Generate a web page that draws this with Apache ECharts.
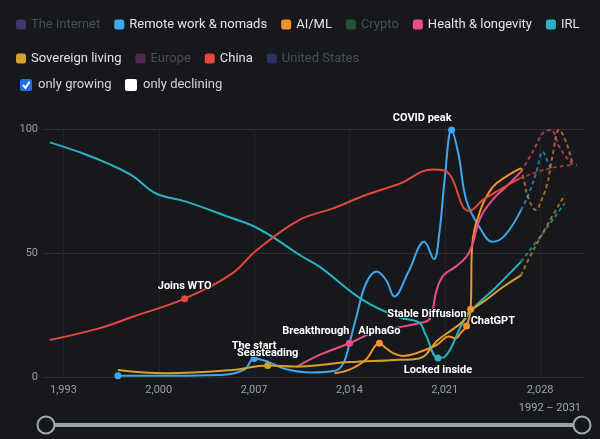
<!DOCTYPE html>
<html>
<head>
<meta charset="utf-8">
<script src="https://cdn.jsdelivr.net/npm/echarts@6/dist/echarts.min.js"></script>
<style>
  html, body { margin: 0; padding: 0; background: #17181c; }
  #chart { width: 600px; height: 439px; }
</style>
</head>
<body>
<div id="chart"></div>
<script>
// ---- data ----
const xTickYears = [1993, 2000, 2007, 2014, 2021, 2028]
const legendRow1 = ['The internet', 'Remote work & nomads', 'AI/ML', 'Crypto', 'Health & longevity', 'IRL']
const legendRow2 = ['Sovereign living', 'Europe', 'China', 'United States']
const hiddenSeries = ['The internet', 'Crypto', 'Europe', 'United States']
const filters = ['only growing', 'only declining']
const rangeLabel = '1992 – 2031'

const remoteWork = [[1997.0, 0.5], [2001, 0.5], [2004.5, 0.8], [2006.3, 3], [2007.0, 7.5], [2008.0, 6.2], [2009.3, 3.2],
  [2011.2, 1.8], [2013.0, 2.6], [2013.6, 6], [2014.0, 13.6], [2014.5, 24], [2015.2, 37.5], [2016.0, 42.5], [2016.7, 39],
  [2017.3, 32.5], [2018.3, 42], [2019.5, 54.5], [2020.2, 47.5], [2020.6, 58], [2021.0, 80], [2021.5, 99.6], [2022.0, 90],
  [2022.6, 71], [2023.6, 60], [2024.5, 54.5], [2025.4, 57], [2026.6, 67.3]]
const remoteWorkProj = [[2026.6, 67.3], [2027.1, 73], [2027.7, 82], [2028.2, 90.8], [2028.5, 87.5], [2028.9, 83]]

const aiMl = [[2012.9, 1.5], [2014.0, 3], [2015.2, 7], [2016.2, 13.6], [2016.6, 12], [2017.2, 9.6], [2017.9, 8.5],
  [2018.9, 9.6], [2020.4, 12.9], [2021.3, 16.3], [2021.8, 15.6], [2022.2, 18], [2022.6, 20.6], [2022.9, 27.3],
  [2023.0, 52], [2023.6, 67], [2024.5, 76.5], [2025.5, 80.8], [2026.6, 84.2]]
const aiMlProj = [[2026.6, 84.2], [2026.9, 77.4], [2027.1, 72.7], [2027.7, 67.3], [2027.9, 68.7], [2028.5, 77.4],
  [2028.9, 88.8], [2029.4, 99.6], [2029.9, 94.9], [2030.4, 85.5]]

const health = [[2010.1, 4], [2011.8, 8.9], [2014.0, 13.6], [2015.6, 17.6], [2017.2, 19.6], [2019.1, 21.7], [2019.9, 23.5],
  [2020.4, 35], [2020.9, 41], [2021.8, 44.5], [2022.6, 48.5], [2023.0, 53], [2023.6, 64], [2024.5, 71.4], [2025.5, 76.7],
  [2026.6, 82.8]]
const healthProj = [[2026.6, 82.8], [2027.4, 90.2], [2028.3, 98.9], [2028.8, 99.6], [2029.4, 92.9], [2030.3, 86.2], [2030.7, 85.5]]

const irl = [[1992, 94.6], [1994.4, 90.2], [1996.5, 85.5], [1998.1, 81], [1999.8, 74], [2002, 70.7], [2005.4, 64],
  [2006.9, 61], [2008.4, 56.3], [2010.4, 49], [2011.8, 44.5], [2015, 31], [2017.7, 24], [2019.1, 22], [2019.6, 17],
  [2020.5, 7.7], [2021.0, 8.2], [2022.3, 21.7], [2023.1, 27.7], [2024.8, 36.4], [2026.6, 46.5]]
const irlProj = [[2026.6, 46.5], [2028.2, 58], [2029.8, 70]]

const sovereign = [[1997.0, 2.8], [2000.5, 1.5], [2005.4, 2.8], [2008.0, 4.6], [2010, 4.2], [2014, 6], [2017, 6.8],
  [2019.1, 7.5], [2020.5, 14.9], [2021.5, 18.9], [2022.3, 22.3], [2022.8, 26.3], [2024.0, 31], [2025.3, 36.4], [2026.6, 41]]
const sovereignProj = [[2026.6, 41], [2027.3, 49], [2028.5, 61], [2029.8, 73.4]]

const china = [[1992, 14.9], [1995.6, 19.6], [1998.1, 24.3], [2001.9, 31.6], [2005.4, 41.8], [2007.2, 51.2], [2010.3, 63.3],
  [2012.8, 68], [2015.2, 73.4], [2017.7, 78], [2020.1, 83.7], [2021.0, 83.2], [2021.6, 79.4], [2022.3, 69], [2022.8, 67],
  [2023.8, 71.4], [2025.0, 75.4], [2026.5, 80.1]]
const chinaProj = [[2026.5, 80.1], [2028.6, 84], [2030.4, 85.6]]

const annotations = [
  { series: 'Remote work & nomads', year: 1997.0, text: '' },
  { series: 'Remote work & nomads', year: 2007.0, text: 'The start' },
  { series: 'Remote work & nomads', year: 2021.5, text: 'COVID peak' },
  { series: 'Health & longevity', year: 2014.0, text: 'Breakthrough' },
  { series: 'AI/ML', year: 2016.2, text: 'AlphaGo' },
  { series: 'AI/ML', year: 2022.6, text: 'Stable Diffusion' },
  { series: 'AI/ML', year: 2022.9, text: 'ChatGPT' },
  { series: 'IRL', year: 2020.5, text: 'Locked inside' },
  { series: 'Sovereign living', year: 2008.0, text: 'Seasteading' },
  { series: 'China', year: 2001.9, text: 'Joins WTO' },
]

// ---- styling ----
const FONT = 'Roboto, "Noto Sans", sans-serif'
const BG = '#17181c'
const GRIDLINE = '#2d2e34'
const seriesList = [
  { name: 'Remote work & nomads', color: '#3fa7ef', solid: remoteWork, proj: remoteWorkProj },
  { name: 'AI/ML', color: '#f0922e', solid: aiMl, proj: aiMlProj },
  { name: 'Health & longevity', color: '#ec4d8f', solid: health, proj: healthProj },
  { name: 'IRL', color: '#27b3c2', solid: irl, proj: irlProj },
  { name: 'Sovereign living', color: '#d4a22a', solid: sovereign, proj: sovereignProj },
  { name: 'China', color: '#e5483e', solid: china, proj: chinaProj },
]
const dimColors = {
  'The internet': '#40376a',
  'Crypto': '#2a5036',
  'Europe': '#53284f',
  'United States': '#2c3062',
}
// where each note sits relative to its point: [position, align]
const labelPlace = {
  'COVID peak': ['top', 'right'],
  'Breakthrough': ['top', 'right'],
  'Stable Diffusion': ['top', 'right'],
  'ChatGPT': ['bottom', 'left'],
  'Locked inside': ['bottom', 'center'],
}

function markPoints(name, pts) {
  return pts.map(([x, y]) => {
    const a = annotations.find(n => n.series === name && n.year === x)
    if (!a) return [x, y]
    const [position, align] = labelPlace[a.text] || ['top', 'center']
    return {
      value: [x, y],
      symbol: 'circle',
      symbolSize: 7,
      label: {
        show: !!a.text,
        formatter: a.text,
        position,
        align,
        distance: 3,
        color: '#ffffff',
        fontFamily: FONT,
        fontSize: 11,
        fontWeight: 'bold',
        textBorderColor: BG,
        textBorderWidth: 2,
      },
    }
  })
}

const series = []
seriesList.forEach(s => {
  series.push({
    name: s.name,
    type: 'line',
    data: markPoints(s.name, s.solid),
    smooth: 0.4,
    symbol: 'none',
    showSymbol: true,
    color: s.color,
    lineStyle: { width: 2, color: s.color },
    itemStyle: { color: s.color },
  })
  series.push({
    name: s.name,
    type: 'line',
    data: s.proj,
    smooth: 0.4,
    symbol: 'none',
    color: s.color,
    lineStyle: { width: 2, color: s.color, type: [4, 3], opacity: 0.65 },
  })
})
hiddenSeries.forEach(name => {
  series.push({ name, type: 'line', data: [], color: dimColors[name] })
})

function legendItems(names) {
  return names.map(name => {
    if (!hiddenSeries.includes(name)) return { name }
    return { name, itemStyle: { color: dimColors[name] }, textStyle: { color: '#4b4e54' } }
  })
}
const legendBase = {
  left: 11,
  width: 590,
  orient: 'horizontal',
  icon: 'roundRect',
  itemWidth: 10,
  itemHeight: 10,
  itemGap: 14,
  selectedMode: false,
  textStyle: { color: '#e4e4e6', fontSize: 13, fontFamily: FONT },
}

const chart = echarts.init(document.getElementById('chart'), null, { renderer: 'canvas' })
chart.setOption({
  backgroundColor: BG,
  animation: false,
  legend: [
    Object.assign({}, legendBase, { top: 13, data: legendItems(legendRow1) }),
    Object.assign({}, legendBase, { top: 47, data: legendItems(legendRow2) }),
  ],
  grid: { left: 43, right: 17, top: 129, bottom: 62 },
  xAxis: {
    type: 'value',
    min: 1991.5,
    max: 2031.15,
    axisLine: { show: false },
    axisTick: { show: false, customValues: xTickYears },
    axisLabel: { customValues: xTickYears, color: '#9b9ea4', fontSize: 11, fontFamily: FONT, margin: 8 },
    splitLine: { show: true, lineStyle: { color: GRIDLINE, type: 'dotted' } },
  },
  yAxis: {
    type: 'value',
    min: 0,
    max: 100,
    interval: 50,
    axisLine: { show: false },
    axisTick: { show: false },
    axisLabel: { color: '#9b9ea4', fontSize: 11, fontFamily: FONT, margin: 5 },
    splitLine: { lineStyle: { color: GRIDLINE } },
  },
  dataZoom: [{
    type: 'slider',
    xAxisIndex: 0,
    filterMode: 'none',
    left: 43,
    right: 19,
    bottom: 12,
    height: 4,
    showDetail: false,
    showDataShadow: false,
    brushSelect: false,
    moveHandleSize: 0,
    backgroundColor: '#9aa3ab',
    borderColor: 'transparent',
    fillerColor: '#9aa3ab',
    handleIcon: 'circle',
    handleSize: 17,
    handleStyle: { color: BG, borderColor: '#a3abb1', borderWidth: 2 },
    dataBackground: { lineStyle: { opacity: 0 }, areaStyle: { opacity: 0 } },
    selectedDataBackground: { lineStyle: { opacity: 0 }, areaStyle: { opacity: 0 } },
  }],
  graphic: [
    { type: 'rect', left: 20, top: 79, shape: { width: 12, height: 12, r: 2 }, style: { fill: '#1f6fe5' } },
    { type: 'polyline', shape: { points: [[23, 85], [25.5, 87.8], [29.5, 81.8]] }, style: { stroke: '#ffffff', lineWidth: 2, fill: null } },
    { type: 'text', left: 38, top: 78, style: { text: filters[0], fill: '#d6d6d8', font: '13px ' + FONT } },
    { type: 'rect', left: 125, top: 79, shape: { width: 12, height: 12, r: 2 }, style: { fill: '#ffffff' } },
    { type: 'text', left: 143, top: 78, style: { text: filters[1], fill: '#d6d6d8', font: '13px ' + FONT } },
    { type: 'text', right: 19, top: 403, style: { text: rangeLabel, fill: '#a4a7ad', font: '11px ' + FONT } },
  ],
  series,
})
</script>
</body>
</html>
